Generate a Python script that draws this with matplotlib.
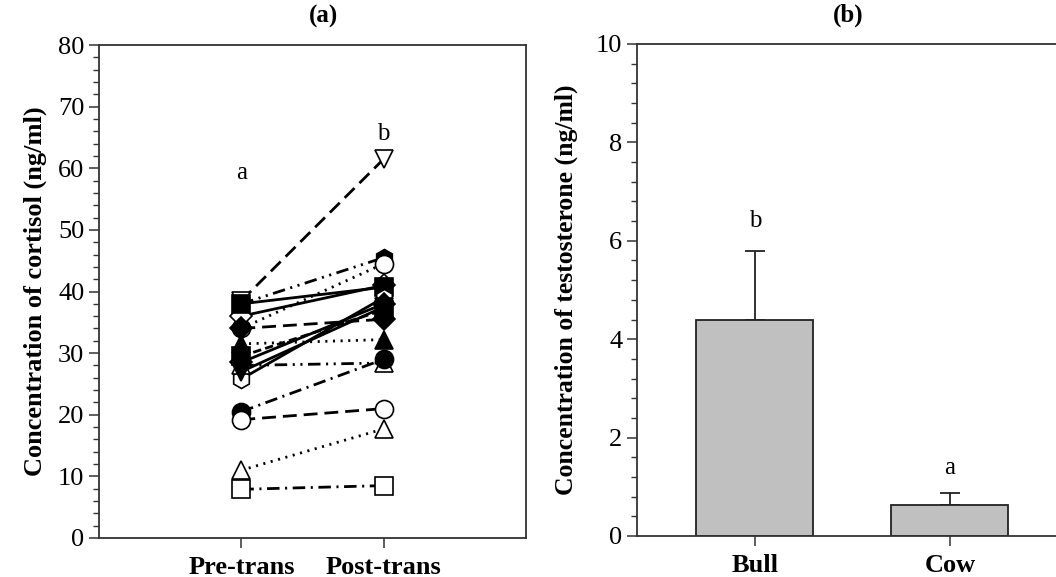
import matplotlib
matplotlib.use('Agg')
from matplotlib import pyplot as plt
from matplotlib.ticker import MultipleLocator

plt.rcParams['font.family'] = ['Liberation Serif', 'DejaVu Serif']
plt.rcParams['lines.scale_dashes'] = False

# ---- data (a) cortisol, one entry per animal
groups = ['Pre-trans', 'Post-trans']
pre_vals = [38.5, 38.0, 34.0, 36.0, 38.0, 25.8, 34.0, 31.5, 28.0, 20.5, 19.2, 11.0, 7.9, 27.0, 29.5, 28.5]
post_vals = [61.5, 45.5, 44.5, 41.0, 40.7, 39.0, 35.5, 32.2, 28.4, 29.0, 21.0, 17.7, 8.5, 37.5, 37.0, 38.0]
letters_a = ['a', 'b']
letters_a_y = [59.3, 65.6]

# ---- data (b) testosterone
sexes = ['Bull', 'Cow']
testo_mean = [4.40, 0.62]
testo_se = [1.40, 0.25]
letters_b = ['b', 'a']
letters_b_y = [6.4, 1.39]

# ---- styles for each animal
marks = ['v', 'h', 'o', 'D', 's', 'h', 'D', '^', '^', 'o', 'o', '^', 's', 'v', 's', 'D']
filled = [False, True, False, False, True, False, True, True, False, True, False, False, False, True, True, True]
LDASH = (0, (10, 5))
DOT = (0, (1.5, 4))
DDOT = (0, (9, 4, 1.5, 4))
DDDOT = (0, (9, 4, 1.5, 4, 1.5, 4))
styles = [LDASH, DDDOT, DOT, '-', '-', '-', LDASH, DOT, DDDOT, DDOT, LDASH, DOT, DDOT, '-', (0, (6, 3)), '-']

spine_col = '#333333'
fs = 19

fig = plt.figure(figsize=(10.56, 5.77), dpi=100)
ax1 = fig.add_axes([99/1056, 1-538/577, 427/1056, 493/577])
ax2 = fig.add_axes([637/1056, 1-536/577, 422/1056, 492/577])

#%% panel (a)
xs = [1, 2]
for i in range(len(pre_vals)):
    fc = 'black' if filled[i] else 'white'
    ms = 13 if marks[i] != 'D' else 11
    ax1.plot(xs, [pre_vals[i], post_vals[i]], color='black', lw=2.0, linestyle=styles[i],
             marker=marks[i], markersize=ms, markerfacecolor=fc, markeredgecolor='black',
             markeredgewidth=1.2)

for k in range(2):
    ax1.text(xs[k], letters_a_y[k], letters_a[k], ha='center', va='center', fontsize=18)

ax1.set_xlim(0, 3)
ax1.set_ylim(0, 80)
ax1.set_xticks(xs)
ax1.set_xticklabels(groups, fontweight='bold', fontsize=fs)
ax1.yaxis.set_major_locator(MultipleLocator(10))
ax1.yaxis.set_minor_locator(MultipleLocator(2))
ax1.set_ylabel('Concentration of cortisol (ng/ml)', fontweight='bold', fontsize=fs, labelpad=8)
ax1.set_title('(a)', fontweight='bold', fontsize=18, pad=16, x=0.525)

#%% panel (b)
xb = [1, 2]
ax2.bar(xb, testo_mean, width=0.6, color='#c0c0c0', edgecolor='#222222', linewidth=1.3, zorder=2)
ax2.errorbar(xb, testo_mean, yerr=[[0, 0], testo_se], fmt='none', ecolor='#222222',
             elinewidth=1.3, capsize=7, capthick=1.3, zorder=1)
for k in range(2):
    ax2.text(xb[k], letters_b_y[k], letters_b[k], ha='center', va='center', fontsize=18)

ax2.set_xlim(0.395, 2.56)
ax2.set_ylim(0, 10)
ax2.set_xticks(xb)
ax2.set_xticklabels(sexes, fontweight='bold', fontsize=fs)
ax2.yaxis.set_major_locator(MultipleLocator(2))
ax2.yaxis.set_minor_locator(MultipleLocator(0.4))
ax2.set_ylabel('Concentration of testosterone (ng/ml)', fontweight='bold', fontsize=18.5, labelpad=13)
ax2.set_title('(b)', fontweight='bold', fontsize=18, pad=16)
ax2.spines['right'].set_visible(False)

for ax in [ax1, ax2]:
    for s in ax.spines.values():
        s.set_color(spine_col)
        s.set_linewidth(1.3)
    ax.tick_params(axis='y', which='major', direction='out', length=7, width=1.1,
                   color=spine_col, labelsize=fs, right=False)
    ax.tick_params(axis='y', which='minor', direction='out', length=4, width=1.0, color=spine_col)
    ax.tick_params(axis='x', which='major', direction='out', length=7, width=1.1,
                   color=spine_col, top=False, pad=6)

fig.savefig('out.png', dpi=100)
